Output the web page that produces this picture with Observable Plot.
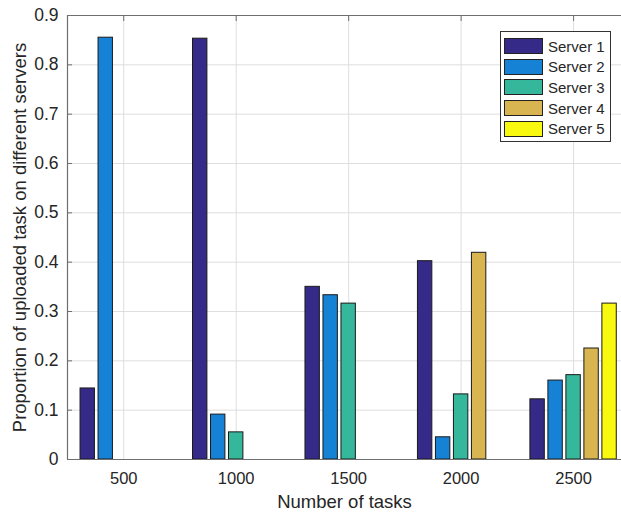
<!DOCTYPE html>
<html>
<head>
<meta charset="utf-8">
<script src="https://cdn.jsdelivr.net/npm/d3@7"></script>
<script src="https://cdn.jsdelivr.net/npm/@observablehq/plot@0.6"></script>
<style>
  body { margin: 0; background: #fff; }
  #wrap { position: relative; width: 621px; height: 516px; font-family: "Liberation Sans", Arial, sans-serif; }
  #wrap svg { font-family: "Liberation Sans", Arial, sans-serif; }
  #wrap svg text { font-size: 16.5px; }
  #legend { position: absolute; left: 500px; top: 31px; width: 111px; height: 111px; border: 1px solid #333; background: #fff; box-sizing: border-box; padding-top: 4px; }
  .item { display: flex; align-items: center; height: 20.6px; }
  .sw { width: 39px; height: 16px; border: 1px solid #222; box-sizing: border-box; margin-left: 3px; margin-right: 5px; }
  .lab { font-size: 15px; color: #262626; }
</style>
</head>
<body>
<div id="wrap"></div>
<script>
const tasks = [500, 1000, 1500, 2000, 2500];
const servers = ["Server 1", "Server 2", "Server 3", "Server 4", "Server 5"];
const colors = ["#352a87", "#1682d6", "#35b79c", "#d8b551", "#f9f90f"];
const server1 = [0.144, 0.853, 0.350, 0.402, 0.122];
const server2 = [0.855, 0.091, 0.333, 0.045, 0.160];
const server3 = [0.000, 0.055, 0.316, 0.132, 0.171];
const server4 = [0.000, 0.000, 0.000, 0.419, 0.225];
const server5 = [0.000, 0.000, 0.000, 0.000, 0.316];
const yTicks = [0, 0.1, 0.2, 0.3, 0.4, 0.5, 0.6, 0.7, 0.8, 0.9];

const series = [server1, server2, server3, server4, server5];
const data = [];
series.forEach((vals, si) => vals.forEach((v, ti) => data.push({task: tasks[ti], s: si, server: servers[si], value: v})));
const slot = 80, bw = 64;
const yFmt = d => d === 0 ? "0" : d3.format(".1f")(d);
const blank = () => "";

const chart = Plot.plot({
  width: 621, height: 516,
  marginLeft: 67, marginRight: 0, marginTop: 15, marginBottom: 57,
  x: {type: "linear", domain: [250, 2713]},
  y: {domain: [0, 0.9]},
  color: {domain: servers, range: colors},
  marks: [
    Plot.gridX(tasks, {stroke: "#dedede", strokeOpacity: 1}),
    Plot.gridY(yTicks, {stroke: "#dedede", strokeOpacity: 1}),
    Plot.axisY(yTicks, {tickSize: -5, tickFormat: blank, label: null, stroke: "#6e6e6e"}),
    Plot.axisX(tasks, {anchor: "top", tickSize: -5, tickFormat: blank, label: null, stroke: "#6e6e6e"}),
    Plot.rectY(data, {
      x1: d => d.task + (d.s - 2) * slot - bw / 2,
      x2: d => d.task + (d.s - 2) * slot + bw / 2,
      y1: 0, y2: "value", fill: "server", stroke: "#1a1a1a", strokeWidth: 1
    }),
    Plot.ruleY([0, 0.9], {stroke: "#6e6e6e", strokeWidth: 1.2}),
    Plot.ruleX([250], {stroke: "#6e6e6e", strokeWidth: 1.2}),
    Plot.axisX(tasks, {tickSize: 0, tickPadding: 13, tickFormat: d => String(d), label: null, color: "#262626"}),
    Plot.axisX({ticks: [], label: "Number of tasks", labelAnchor: "center", labelArrow: "none", labelOffset: 48, color: "#262626"}),
    Plot.axisY(yTicks, {tickSize: 0, tickPadding: 9, tickFormat: yFmt, label: null, color: "#262626"}),
    Plot.axisY({ticks: [], label: "Proportion of uploaded task on different servers", labelAnchor: "center", labelArrow: "none", labelOffset: 55, color: "#262626"})
  ]
});
d3.select(chart).selectAll('[aria-label="x-axis label"] text, [aria-label="y-axis label"] text').style("font-size", "18.5px");
d3.select(chart).selectAll('[aria-label="y-axis tick label"] text').style("font-size", "17.5px");
const wrap = document.getElementById("wrap");
wrap.appendChild(chart);
const legend = document.createElement("div");
legend.id = "legend";
servers.forEach((s, i) => {
  const it = document.createElement("div");
  it.className = "item";
  it.innerHTML = `<div class="sw" style="background:${colors[i]}"></div><span class="lab">${s}</span>`;
  legend.appendChild(it);
});
wrap.appendChild(legend);
</script>
</body>
</html>
